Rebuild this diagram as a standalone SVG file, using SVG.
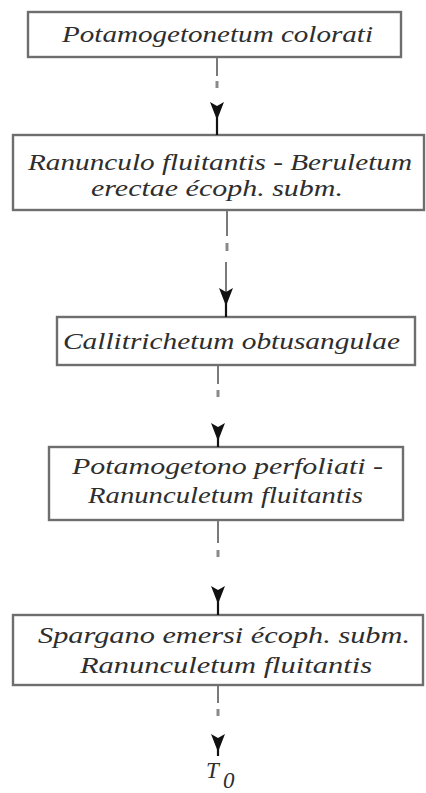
<svg xmlns="http://www.w3.org/2000/svg" width="426" height="793" viewBox="0 0 426 793">
<style>
.box{fill:#ffffff;stroke:#6e6e6e;stroke-width:2.4}
.t{font-family:"Liberation Serif","Times New Roman",serif;font-style:italic;font-size:23px;fill:#2e2e2e}
.c{stroke:#7a7a7a;stroke-width:2;fill:none}
.dot{stroke:#8a8a8a;stroke-width:3;fill:none}
.ah{fill:#111111}
.st{stroke:#111111;stroke-width:2.2;fill:none}
</style>
<defs>
<path id="ah" d="M-7,0 L0,4 L7,0 L0,18 Z"/>
</defs>
<rect width="426" height="793" fill="#ffffff"/>
<g id="n1">
<rect class="box" x="28" y="12" width="373" height="45"/>
<text class="t" x="62" y="42" textLength="311" lengthAdjust="spacingAndGlyphs">Potamogetonetum colorati</text>
</g>
<g id="n2">
<rect class="box" x="13" y="135" width="411" height="75"/>
<text class="t" x="28" y="170" textLength="384" lengthAdjust="spacingAndGlyphs">Ranunculo fluitantis - Beruletum</text>
<text class="t" x="91" y="196" textLength="252" lengthAdjust="spacingAndGlyphs">erectae écoph. subm.</text>
</g>
<g id="n3">
<rect class="box" x="57" y="317" width="358" height="48"/>
<text class="t" x="63" y="349" textLength="337" lengthAdjust="spacingAndGlyphs">Callitrichetum obtusangulae</text>
</g>
<g id="n4">
<rect class="box" x="49" y="447" width="354" height="73"/>
<text class="t" x="72" y="474" textLength="311" lengthAdjust="spacingAndGlyphs">Potamogetono perfoliati -</text>
<text class="t" x="88" y="503" textLength="275" lengthAdjust="spacingAndGlyphs">Ranunculetum fluitantis</text>
</g>
<g id="n5">
<rect class="box" x="13" y="615" width="410" height="70"/>
<text class="t" x="38" y="643" textLength="372" lengthAdjust="spacingAndGlyphs">Spargano emersi écoph. subm.</text>
<text class="t" x="80" y="673" textLength="292" lengthAdjust="spacingAndGlyphs">Ranunculetum fluitantis</text>
</g>
<g id="t0">
<text class="t" x="206" y="778" font-size="19" fill="#3a3a3a">T</text>
<text class="t" x="223" y="788" font-size="13" font-style="normal" fill="#666666">0</text>
</g>
<g id="connectors">
<line class="c" x1="217" y1="58" x2="217" y2="76"/>
<line class="dot" x1="217" y1="81" x2="217" y2="88"/>
<use href="#ah" class="ah" x="217" y="102"/>
<line class="st" x1="217" y1="116" x2="217" y2="135"/>

<line class="c" x1="227" y1="211" x2="227" y2="236"/>
<line class="dot" x1="227" y1="243" x2="227" y2="251"/>
<line class="c" x1="226" y1="262" x2="226" y2="292"/>
<use href="#ah" class="ah" x="226" y="288"/>
<line class="st" x1="226" y1="302" x2="226" y2="317"/>

<line class="c" x1="218" y1="366" x2="218" y2="384"/>
<line class="dot" x1="218" y1="390" x2="218" y2="397"/>
<use href="#ah" class="ah" x="218" y="423"/>
<line class="st" x1="218" y1="437" x2="218" y2="447"/>

<line class="c" x1="218" y1="521" x2="218" y2="543"/>
<line class="dot" x1="218" y1="550" x2="218" y2="557"/>
<use href="#ah" class="ah" x="218" y="586"/>
<line class="st" x1="218" y1="600" x2="218" y2="615"/>

<line class="c" x1="218" y1="686" x2="218" y2="703"/>
<line class="dot" x1="218" y1="709" x2="218" y2="716"/>
<use href="#ah" class="ah" x="218" y="734"/>
<line class="st" x1="218" y1="748" x2="218" y2="756"/>
</g>
</svg>
